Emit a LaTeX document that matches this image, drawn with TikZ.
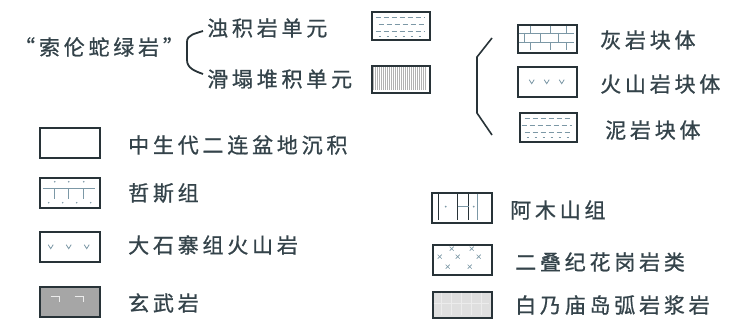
\documentclass[tikz,border=0pt]{standalone}
\usepackage{fontspec}
\newfontfamily\cjk[LetterSpace=18,FakeBold=0.8]{Noto Sans CJK SC}
\definecolor{boxc}{HTML}{283338}
\definecolor{txtc}{HTML}{34434A}
\definecolor{patc}{HTML}{7C98A6}
\tikzset{
  legbox/.style={draw=boxc, line width=2.6pt, minimum width=58pt, minimum height=28pt, inner sep=0pt, fill=white},
  lab/.style={anchor=west, text=txtc, font=\cjk\fontsize{21}{21}\selectfont, inner sep=0pt},
  pat/.style={draw=patc, line width=0.8pt},
  brk/.style={draw=boxc, line width=1.8pt}
}
\begin{document}
\begin{tikzpicture}[x=1pt,y=-1pt]
\useasboundingbox (0,0) rectangle (730,323);
\fill[white] (0,0) rectangle (730,323);

% ---- top-left group
\node[lab] (sl) at (14,47) {“索伦蛇绿岩”};
\node[lab] (zjl) at (207,28) {浊积岩单元};
\node[lab] (htl) at (207,79) {滑塌堆积单元};
\draw[brk] (zjl.west) ++(-4,3) coordinate (bt) to[out=200,in=90] (187,42) coordinate (bm1) -- (187,60) coordinate (bm2) to[out=-90,in=160] (203,74) coordinate (bb);

\node[legbox, minimum height=28pt] (zj) at (401,26) {};
\begin{scope}[shift={(zj.north west)}]
  \draw[pat, dash pattern=on 5pt off 3pt] (5,7) -- (54,7);
  \draw[pat, dash pattern=on 5pt off 3pt] (8,14) -- (54,14);
  \draw[pat, dash pattern=on 5pt off 3pt] (5,21) -- (54,21);
  \draw[pat, dash pattern=on 2pt off 6pt] (8,25.5) -- (54,25.5);
\end{scope}

\node[legbox, minimum height=27pt] (ht) at (401,79.5) {};
\begin{scope}[shift={(ht.north west)}]
  \foreach \x in {3,5,...,56} \draw[draw=gray!60, line width=0.45pt] (\x,2) -- (\x,25);
\end{scope}

% ---- right bracket group
\draw[brk, line width=1.6pt] (492,38) coordinate (rt) -- (477,57) -- (477,113) -- (492,135) coordinate (rb);

\node[legbox, minimum width=59pt] (hy) at (547.5,39) {};
\begin{scope}[shift={(hy.north west)}]
  \draw[pat, line width=0.6pt] (2,9.3) -- (57,9.3) (2,18.6) -- (57,18.6);
  \foreach \x in {14,34,50} \draw[pat, line width=0.6pt] (\x,2) -- (\x,9.3);
  \foreach \x in {8,24,42} \draw[pat, line width=0.6pt] (\x,9.3) -- (\x,18.6);
  \foreach \x in {14,34,50} \draw[pat, line width=0.6pt] (\x,18.6) -- (\x,26);
\end{scope}
\node[lab] (hyl) at (600,40) {灰岩块体};

\node[legbox, minimum width=59pt, minimum height=30pt] (hs) at (547.5,82) {};
\begin{scope}[shift={(hs.north west)}]
  \foreach \x in {15,30,45} \draw[pat] (\x-2.5,14) -- (\x,18) -- (\x+2.5,14);
\end{scope}
\node[lab] (hsl) at (600,84) {火山岩块体};

\node[legbox, minimum width=57pt, minimum height=29pt] (ny) at (548.5,127.5) {};
\begin{scope}[shift={(ny.north west)}]
  \draw[pat, dash pattern=on 5pt off 3pt] (6,7) -- (53,7);
  \draw[pat, dash pattern=on 5pt off 3pt] (3,14) -- (53,14);
  \draw[pat, dash pattern=on 5pt off 3pt] (6,21) -- (53,21);
  \draw[pat, dash pattern=on 2pt off 6pt] (8,26) -- (53,26);
\end{scope}
\node[lab] (nyl) at (605,130) {泥岩块体};

% ---- left column
\node[legbox, minimum width=60pt, minimum height=30pt] (c1) at (70,143) {};
\node[lab] (c1l) at (128,145) {中生代二连盆地沉积};

\node[legbox, minimum width=60pt, minimum height=30pt] (c2) at (70,193) {};
\begin{scope}[shift={(c2.north west)}]
  \foreach \x in {16,30,45} \fill[patc] (\x,5) circle (0.9pt);
  \draw[pat, line width=0.6pt] (4,12) -- (56,12);
  \foreach \x in {16,30,45} \draw[pat, line width=0.6pt] (\x,12) -- (\x,22);
  \foreach \x in {10,24,38,52} \fill[patc] (\x,26) circle (0.8pt);
\end{scope}
\node[lab] (c2l) at (128,193) {哲斯组};

\node[legbox, minimum width=60pt, minimum height=30pt] (c3) at (70,247) {};
\begin{scope}[shift={(c3.north west)}]
  \foreach \x in {12,30,48} \draw[pat] (\x-2.5,14) -- (\x,18) -- (\x+2.5,14);
\end{scope}
\node[lab] (c3l) at (128,245) {大石寨组火山岩};

\node[legbox, minimum width=60pt, minimum height=30pt, fill=gray!70] (c4) at (70,302) {};
\begin{scope}[shift={(c4.north west)}]
  \draw[draw=white!85!gray, line width=1.1pt] (12,11) -- (21,11) -- (21,16);
  \draw[draw=white!85!gray, line width=1.1pt] (36,11) -- (45,11) -- (45,16);
\end{scope}
\node[lab] (c4l) at (128,303) {玄武岩};

% ---- right column
\node[legbox, minimum width=60pt, minimum height=30pt] (a1) at (462,208) {};
\begin{scope}[shift={(a1.north west)}]
  \draw[draw=boxc, line width=0.9pt] (8,2) -- (8,28) (27,2) -- (27,28) (38,2) -- (38,28);
  \draw[draw=patc, line width=0.7pt] (47,2) -- (47,28) (27,15) -- (38,15);
  \fill[patc] (15,15) circle (1pt) (43,15) circle (1pt);
\end{scope}
\node[lab] (a1l) at (510,210) {阿木山组};

\node[legbox, minimum width=59pt, minimum height=30pt] (a2) at (462.5,260) {};
\begin{scope}[shift={(a2.north west)}]
  \foreach \x/\y in {8/13,26/13,47/13,16/23,38/23,20/5,40/5}
    \draw[pat, line width=0.6pt] (\x-2,\y-2) -- (\x+2,\y+2) (\x-2,\y+2) -- (\x+2,\y-2);
\end{scope}
\node[lab] (a2l) at (515,262) {二叠纪花岗岩类};

\node[legbox, minimum width=59pt, minimum height=26pt, fill=gray!25] (a3) at (462.5,305) {};
\begin{scope}[shift={(a3.north west)}]
  \foreach \x in {10,20,...,50} \draw[draw=gray!15, line width=0.5pt] (\x,2) -- (\x,24);
  \draw[draw=gray!15, line width=0.5pt] (2,13) -- (57,13);
\end{scope}
\node[lab] (a3l) at (515,305) {白乃庙岛弧岩浆岩};
\end{tikzpicture}
\end{document}
